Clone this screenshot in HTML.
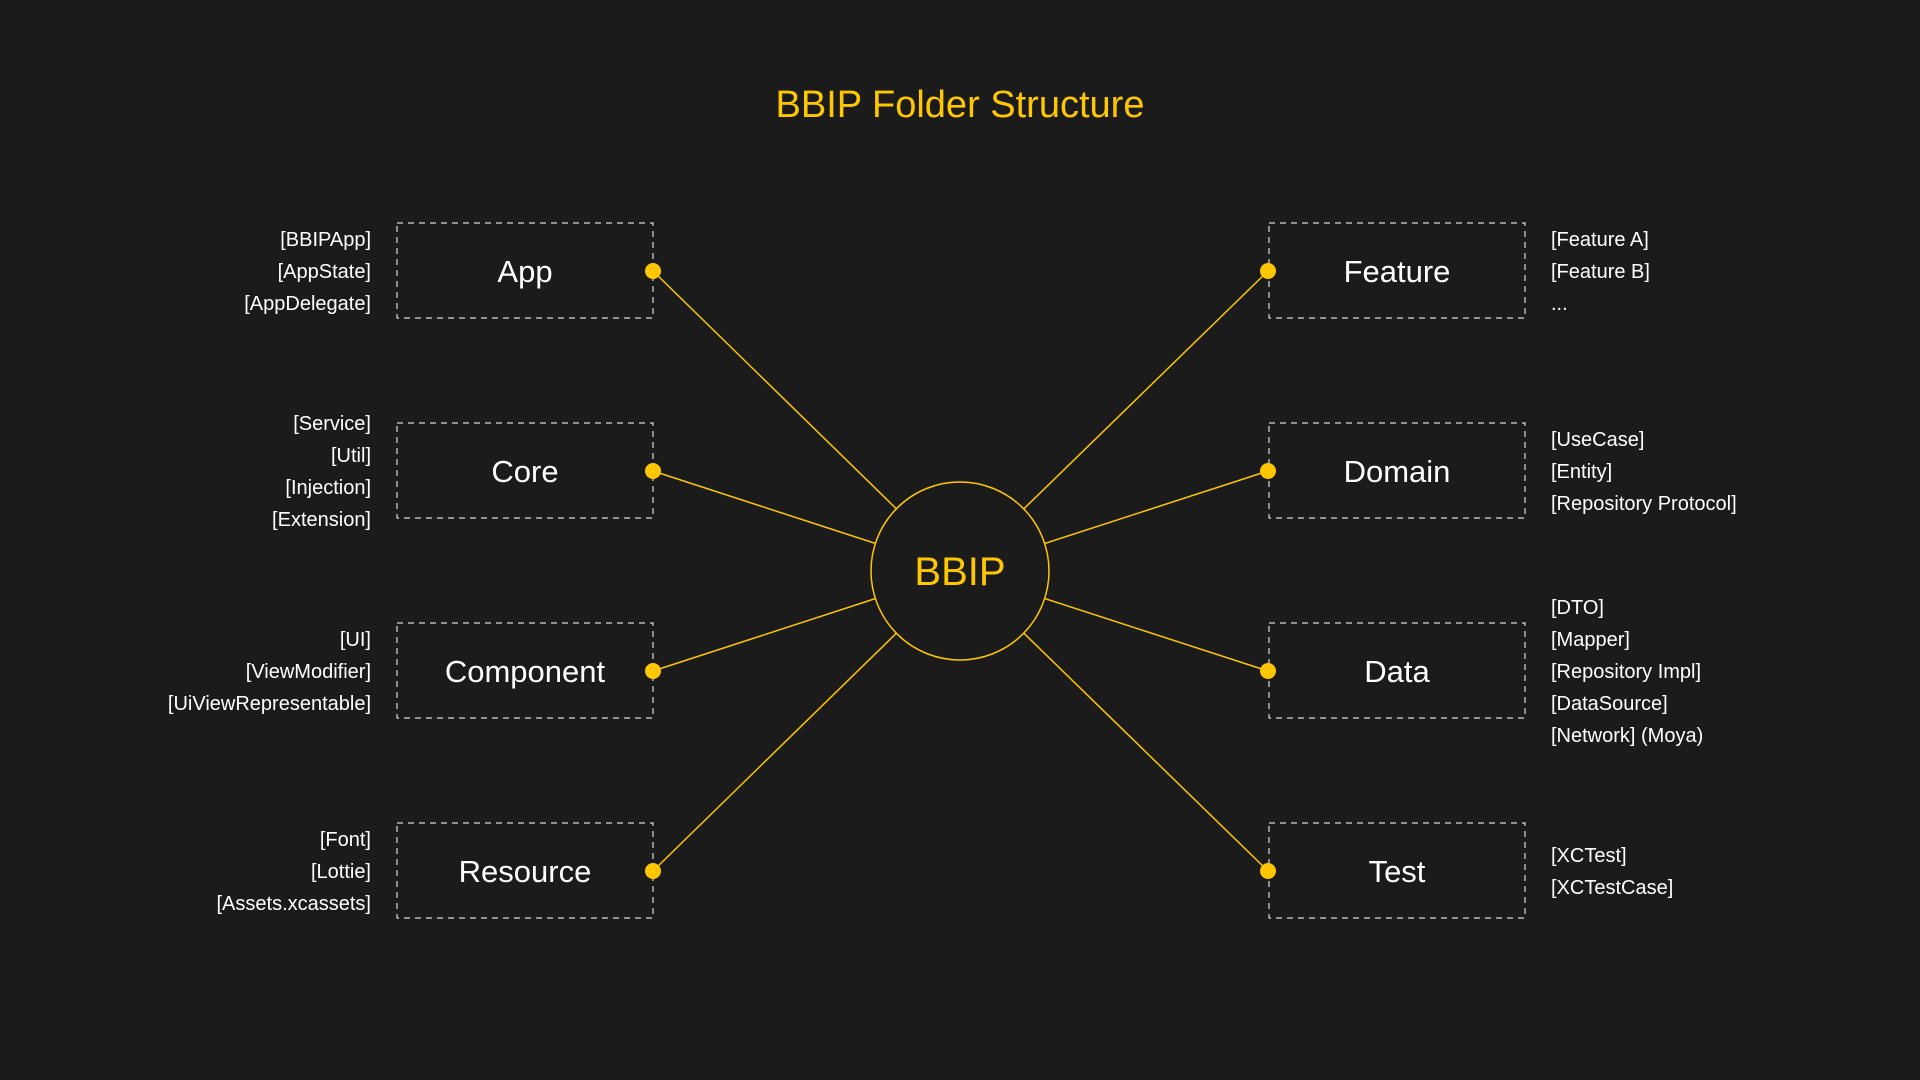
<!DOCTYPE html>
<html><head><meta charset="utf-8"><style>
html,body{margin:0;padding:0;background:#1b1b1b;}
svg{display:block;}
text{font-family:"Liberation Sans",sans-serif;}
</style></head><body>
<svg width="1920" height="1080" viewBox="0 0 1920 1080" xmlns="http://www.w3.org/2000/svg">
<rect width="1920" height="1080" fill="#1b1b1b"/>
<text x="960" y="117" text-anchor="middle" fill="#ffc700" font-size="38">BBIP Folder Structure</text>
<g stroke="#ffc700" stroke-width="1.5">
<line x1="653" y1="271" x2="960" y2="571"/>
<line x1="653" y1="471" x2="960" y2="571"/>
<line x1="653" y1="671" x2="960" y2="571"/>
<line x1="653" y1="871" x2="960" y2="571"/>
<line x1="1268" y1="271" x2="960" y2="571"/>
<line x1="1268" y1="471" x2="960" y2="571"/>
<line x1="1268" y1="671" x2="960" y2="571"/>
<line x1="1268" y1="871" x2="960" y2="571"/>
</g>
<circle cx="960" cy="571" r="89" fill="#1b1b1b" stroke="#ffc700" stroke-width="1.5"/>
<text x="960" y="585" text-anchor="middle" fill="#ffc700" font-size="40">BBIP</text>
<g fill="none" stroke="#d8d8d8" stroke-width="1.2" stroke-dasharray="6,5">
<rect x="397" y="223" width="256" height="95"/>
<rect x="397" y="423" width="256" height="95"/>
<rect x="397" y="623" width="256" height="95"/>
<rect x="397" y="823" width="256" height="95"/>
<rect x="1269" y="223" width="256" height="95"/>
<rect x="1269" y="423" width="256" height="95"/>
<rect x="1269" y="623" width="256" height="95"/>
<rect x="1269" y="823" width="256" height="95"/>
</g>
<g fill="#ffc700">
<circle cx="653" cy="271" r="8"/><circle cx="653" cy="471" r="8"/><circle cx="653" cy="671" r="8"/><circle cx="653" cy="871" r="8"/>
<circle cx="1268" cy="271" r="8"/><circle cx="1268" cy="471" r="8"/><circle cx="1268" cy="671" r="8"/><circle cx="1268" cy="871" r="8"/>
</g>
<g fill="#ffffff" font-size="31" text-anchor="middle">
<text x="525" y="282">App</text><text x="525" y="482">Core</text><text x="525" y="682">Component</text><text x="525" y="882">Resource</text>
<text x="1397" y="282">Feature</text><text x="1397" y="482">Domain</text><text x="1397" y="682">Data</text><text x="1397" y="882">Test</text>
</g>
<g fill="#ffffff" font-size="20" text-anchor="end">
<text x="371" y="246">[BBIPApp]</text><text x="371" y="278">[AppState]</text><text x="371" y="310">[AppDelegate]</text>
<text x="371" y="430">[Service]</text><text x="371" y="462">[Util]</text><text x="371" y="494">[Injection]</text><text x="371" y="526">[Extension]</text>
<text x="371" y="646">[UI]</text><text x="371" y="678">[ViewModifier]</text><text x="371" y="710">[UiViewRepresentable]</text>
<text x="371" y="846">[Font]</text><text x="371" y="878">[Lottie]</text><text x="371" y="910">[Assets.xcassets]</text>
</g>
<g fill="#ffffff" font-size="20">
<text x="1551" y="246">[Feature A]</text><text x="1551" y="278">[Feature B]</text><text x="1551" y="310">...</text>
<text x="1551" y="446">[UseCase]</text><text x="1551" y="478">[Entity]</text><text x="1551" y="510">[Repository Protocol]</text>
<text x="1551" y="614">[DTO]</text><text x="1551" y="646">[Mapper]</text><text x="1551" y="678">[Repository Impl]</text><text x="1551" y="710">[DataSource]</text><text x="1551" y="742">[Network] (Moya)</text>
<text x="1551" y="862">[XCTest]</text><text x="1551" y="894">[XCTestCase]</text>
</g>
</svg>
</body></html>
